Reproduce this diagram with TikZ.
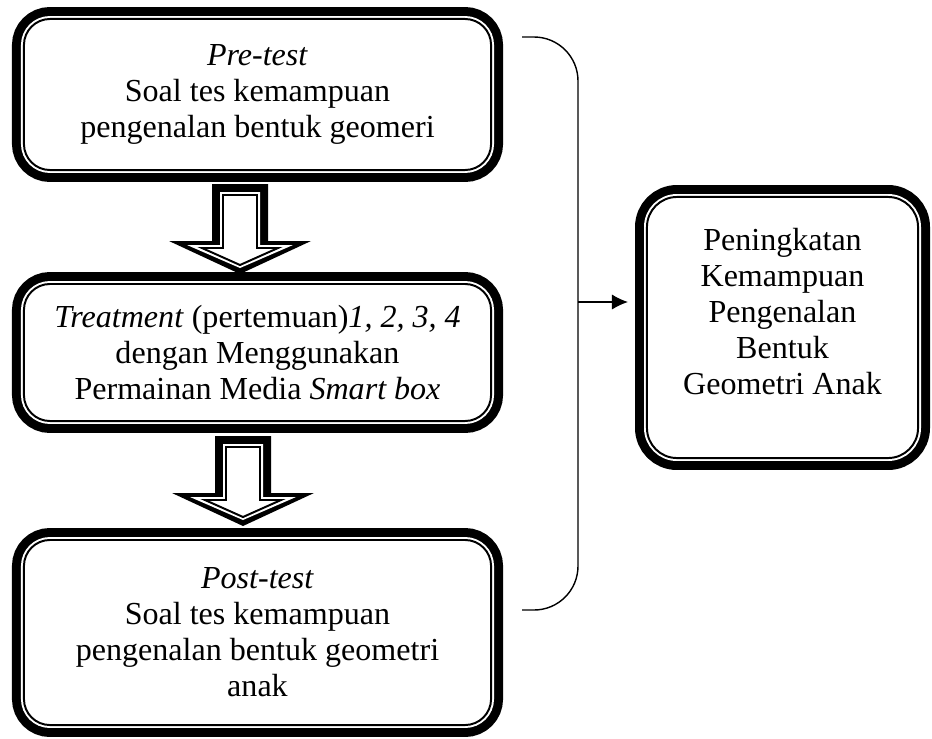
\documentclass[tikz,border=0pt]{standalone}
\usepackage{fontspec}
\setmainfont{Liberation Serif}
\usepackage{tikz}
\usetikzlibrary{shapes,arrows.meta,positioning,calc}

% hollow block arrow pointing down, #1 = top centre
\newcommand{\blockdown}[1]{%
  \begin{scope}[shift={(#1)}]
    \fill[black] (-28,0) -- (28,0) -- (28,57) -- (71,57) -- (0,90) -- (-71,57) -- (-28,57) -- cycle;
    \fill[white] (-20,8) -- (20,8) -- (20,61) -- (53,61) -- (0,84) -- (-53,61) -- (-20,61) -- cycle;
    \draw[line width=1.4pt] (-17,11) -- (17,11) -- (17,64) -- (38,64) -- (0,81) -- (-38,64) -- (-17,64) -- cycle;
  \end{scope}}

\begin{document}
\begin{tikzpicture}[x=0.025cm, y=-0.025cm,
    box/.style={rectangle, rounded corners=0.65cm, align=center, inner sep=0pt,
      fill=white, draw, line width=1.4pt,
      font=\fontsize{22.8}{25.6}\selectfont,
      preaction={draw, line width=17pt},
      preaction={draw=white, line width=4.2pt}},
    link/.style={line width=1pt}]
    \useasboundingbox (0,0) rectangle (932,738);

    % Steps of the study
    \node[box, minimum width=11.675cm, minimum height=3.775cm] (pre) at (257.5,94.5)
        {\textit{Pre-test}\\ Soal tes kemampuan\\ pengenalan bentuk geomeri};
    \node[box, minimum width=11.675cm, minimum height=3.425cm] (treat) at (257.5,352.5)
        {\textit{Treatment} (pertemuan)\textit{1, 2, 3, 4}\\ dengan Menggunakan\\ Permainan Media \textit{Smart box}};
    \node[box, minimum width=11.675cm, minimum height=4.625cm] (post) at (257.5,632.5)
        {\textit{Post-test}\\ Soal tes kemampuan\\ pengenalan bentuk geometri\\ anak};

    % Result
    \node[box, rounded corners=0.75cm, text depth=0.8cm, minimum width=6.775cm, minimum height=6.525cm] (result) at (782.5,327.5)
        {Peningkatan\\ Kemampuan\\ Pengenalan\\ Bentuk\\ Geometri Anak};

    % Arrows between the steps
    \coordinate (down1) at ($(pre.south)+(-17.5,13)$);
    \coordinate (down2) at ($(treat.south)+(-14.5,14)$);
    \blockdown{down1}
    \blockdown{down2}

    % Bracket and arrow to the result
    \coordinate (bracetop) at (522,37);
    \coordinate (bracebot) at (522,610);
    \coordinate (braceout) at (578,302);
    \draw[link, rounded corners=1.1cm] (bracetop) -| (578,323) |- (bracebot);
    \draw[link, -{Latex[length=0.4cm, width=0.38cm]}, shorten >=0.45cm] (braceout) -- (braceout -| result.west);
\end{tikzpicture}
\end{document}
